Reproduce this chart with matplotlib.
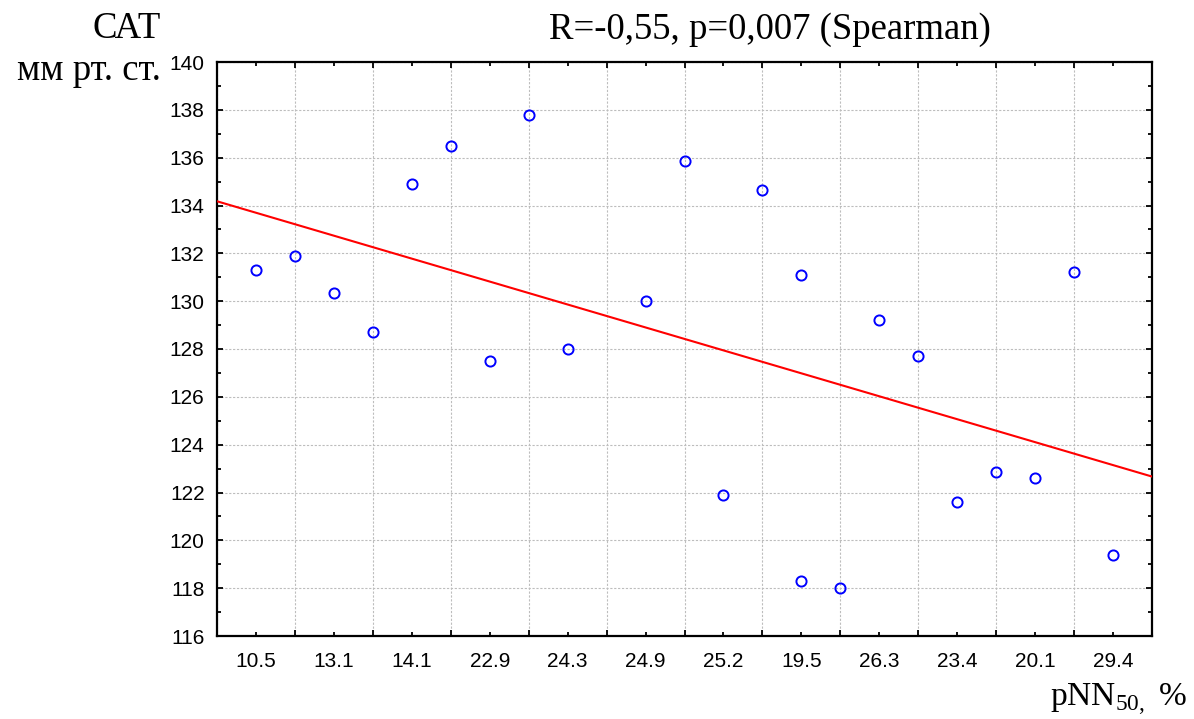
import numpy as np
import matplotlib
matplotlib.use("Agg")
import matplotlib.pyplot as plt
from matplotlib.ticker import MultipleLocator, FixedLocator, FixedFormatter, NullFormatter

# Ordinal position of each observation along the horizontal axis
x_pos = [1, 2, 3, 4, 5, 6, 7, 8, 9, 11, 12, 13, 14, 15, 15, 16, 17, 18, 19, 20, 21, 22, 23]
# Systolic arterial pressure, mm Hg
sat_values = [131.3, 131.9, 130.35, 128.7, 134.9, 136.5, 127.5, 137.8, 128.0,
              130.0, 135.85, 121.9, 134.65, 131.1, 118.3, 118.0, 129.2, 127.7,
              121.6, 122.85, 122.6, 131.2, 119.4]
# pNN50 labels along the horizontal axis
pnn_labels = ['10.5', '13.1', '14.1', '22.9', '24.3', '24.9',
              '25.2', '19.5', '26.3', '23.4', '20.1', '29.4']
pnn_label_pos = [1, 3, 5, 7, 9, 11, 13, 15, 17, 19, 21, 23]

title_text = 'R=-0,55, p=0,007 (Spearman)'

plt.rcParams['mathtext.fontset'] = 'custom'
plt.rcParams['mathtext.rm'] = 'Liberation Serif'

W, H = 1194, 719
fig = plt.figure(figsize=(W / 100, H / 100), dpi=100)
ax = fig.add_axes([217 / W, 1 - 636 / H, (1152 - 217) / W, (636 - 62) / H])

x_lim = (0, 24)
ax.set_xlim(*x_lim)
ax.set_ylim(116, 140)

# grid
ax.xaxis.set_major_locator(MultipleLocator(2))
ax.xaxis.set_major_formatter(NullFormatter())
ax.xaxis.set_minor_locator(FixedLocator(pnn_label_pos))
ax.xaxis.set_minor_formatter(FixedFormatter(pnn_labels))
ax.yaxis.set_major_locator(MultipleLocator(2))
ax.yaxis.set_minor_locator(MultipleLocator(1))
ax.grid(True, which='major', color='#bdbdbd', linestyle=(0, (2, 1.5)), linewidth=0.8)
ax.set_axisbelow(True)

for s in ax.spines.values():
    s.set_linewidth(1.6)
    s.set_color('black')

ax.tick_params(which='both', direction='in', top=True, right=True, width=1.3, colors='black')
ax.tick_params(which='major', length=4.5)
ax.tick_params(which='minor', length=3)
ax.tick_params(axis='y', which='major', labelsize=15, pad=9)
ax.tick_params(axis='x', which='minor', labelsize=15, pad=11.5)
for lab in ax.get_xticklabels(minor=True) + ax.get_yticklabels():
    lab.set_fontfamily('Liberation Sans')

# regression line
coef = np.polyfit(x_pos, sat_values, 1)
xs = np.array(x_lim, dtype=float)
ax.plot(xs, np.polyval(coef, xs), color='#ff0000', linewidth=1.5, zorder=3)

# observations
ax.plot(x_pos, sat_values, linestyle='none', marker='o', markersize=7.3,
        markerfacecolor='none', markeredgecolor='#0000ff', markeredgewidth=1.4, zorder=4)

serif = 'Liberation Serif'
fig.text(770 / W, 1 - 38.5 / H, title_text, ha='center', va='baseline',
         fontsize=26.5, family=serif)
fig.text(161 / W, 1 - 37.5 / H, 'САТ', ha='right', va='baseline', fontsize=26.5, family=serif)
fig.text(161 / W, 1 - 80 / H, 'мм рт. ст.', ha='right', va='baseline', fontsize=26.5, family=serif)
fig.text(1188 / W, 1 - 706 / H, r'pNN$_{\mathrm{50,}}\;\%$', ha='right', va='baseline',
         fontsize=24, family=serif)

fig.savefig('out.png', dpi=100)
